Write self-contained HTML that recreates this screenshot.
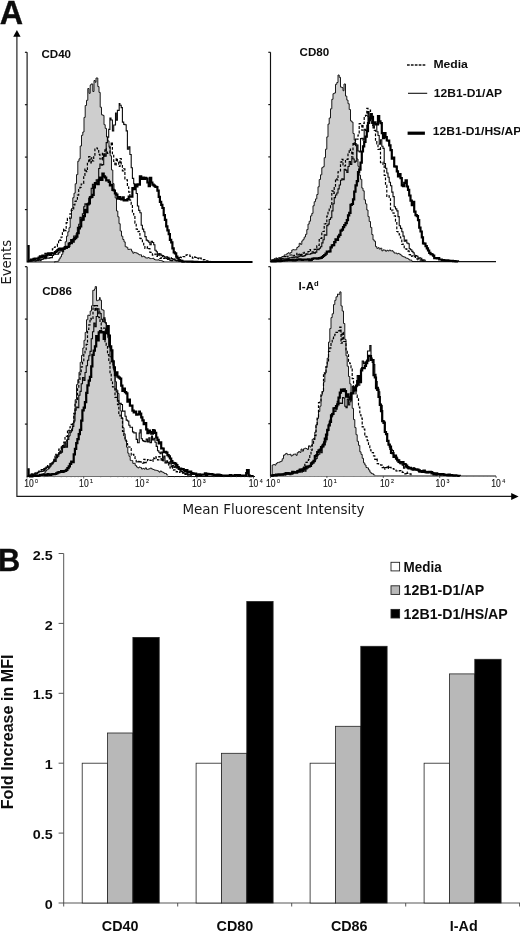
<!DOCTYPE html>
<html><head><meta charset="utf-8"><title>Figure</title>
<style>
html,body{margin:0;padding:0;background:#fff;}
svg{display:block;}
.b{font-family:"Liberation Sans",Arial,sans-serif;font-weight:bold;fill:#0c0c0c;}
.v{font-family:"DejaVu Sans",Verdana,sans-serif;fill:#1a1a1a;}
.t{font-family:"Liberation Sans",Arial,sans-serif;fill:#111;}
</style></head><body>
<svg width="520" height="932" viewBox="0 0 520 932">
<rect width="520" height="932" fill="#fff"/>

<text class="b" x="-0.30" y="23.60" font-size="32.3" stroke="#0c0c0c" stroke-width="0.35">A</text>
<text class="b" x="-2.00" y="570.90" font-size="30.8" stroke="#0c0c0c" stroke-width="0.35">B</text>
<g stroke="#1a1a1a" stroke-width="1.15" fill="none"><path d="M16.9,36 V496.4 H512"/></g>
<path d="M16.9,30 L13.2,36.8 H20.6 Z" fill="#000"/>
<path d="M518.6,496.4 L511.2,492.9 V499.9 Z" fill="#000"/>
<text class="v" font-size="13.7" transform="translate(11.0,284.6) rotate(-90)" textLength="44.6" lengthAdjust="spacingAndGlyphs">Events</text>
<text class="v" font-size="13.5" x="182.4" y="513.8" textLength="182.2" lengthAdjust="spacingAndGlyphs">Mean Fluorescent Intensity</text>
<g stroke="#111" stroke-width="1.15" fill="none"><path d="M27.1,52.3 V262.0 H252.5"/><path d="M27.1,52.3 h-2.2"/><path d="M27.1,104.7 h-2.2"/><path d="M27.1,157.1 h-2.2"/><path d="M27.1,209.6 h-2.2"/></g>
<g stroke="#111" stroke-width="1.15" fill="none"><path d="M270.5,52.3 V261.6 H496.0"/><path d="M270.5,52.3 h-2.2"/><path d="M270.5,104.6 h-2.2"/><path d="M270.5,156.9 h-2.2"/><path d="M270.5,209.3 h-2.2"/></g>
<g stroke="#111" stroke-width="1.15" fill="none"><path d="M27.1,266.7 V476.5 H255.0"/><path d="M27.1,266.7 h-2.2"/><path d="M27.1,319.1 h-2.2"/><path d="M27.1,371.6 h-2.2"/><path d="M27.1,424.1 h-2.2"/></g>
<g stroke="#111" stroke-width="1.15" fill="none"><path d="M270.5,266.7 V476.0 H496.0"/><path d="M270.5,266.7 h-2.2"/><path d="M270.5,319.0 h-2.2"/><path d="M270.5,371.4 h-2.2"/><path d="M270.5,423.7 h-2.2"/></g>
<path d="M54.0,262.0 L54.0,262.0H55.2V261.6H56.5V261.4H57.8V261.1H59.0V258.9H60.2V256.9H61.5V254.3H62.8V248.6H64.0V246.5H65.2V241.8H66.5V236.1H67.8V231.8H69.0V227.7H70.2V218.4H71.5V208.5H72.8V197.7H74.0V193.2H75.2V183.8H76.5V174.6H77.8V161.2H79.0V158.8H80.2V146.0H81.5V135.3H82.8V132.0H84.0V117.4H85.2V105.5H86.5V100.3H87.8V88.5H89.0V93.3H90.2V85.1H91.0V84.0H92.8V91.5H94.0V80.5H95.2V82.3H96.0V78.0H97.8V86.6H99.0V92.4H100.2V107.2H101.5V114.8H102.8V115.4H104.0V124.7H105.2V128.4H106.5V137.0H107.8V140.9H109.0V147.3H110.2V155.8H111.5V170.0H112.8V183.6H114.0V190.5H115.2V198.0H116.5V211.0H117.8V216.8H119.0V223.7H120.2V231.0H121.5V236.2H122.8V239.5H124.0V241.9H125.2V246.7H126.5V247.3H127.8V249.4H129.0V249.3H130.2V249.2H131.5V251.2H132.8V253.2H134.0V252.4H135.2V252.7H136.5V253.2H137.8V254.0H139.0V254.8H140.2V254.8H141.5V256.7H142.8V256.1H144.0V256.7H145.2V257.8H146.5V258.1H147.8V257.6H149.0V258.1H150.2V258.6H151.5V258.5H152.8V258.3H154.0V259.5H155.2V259.9H156.5V260.0H157.8V259.8H159.0V260.3H160.2V260.5H161.5V260.9H162.8V261.5H164.0V261.8 V262.0 Z" fill="#cecece" stroke="none"/>
<path d="M54.0,262.0H55.2V261.6H56.5V261.4H57.8V261.1H59.0V258.9H60.2V256.9H61.5V254.3H62.8V248.6H64.0V246.5H65.2V241.8H66.5V236.1H67.8V231.8H69.0V227.7H70.2V218.4H71.5V208.5H72.8V197.7H74.0V193.2H75.2V183.8H76.5V174.6H77.8V161.2H79.0V158.8H80.2V146.0H81.5V135.3H82.8V132.0H84.0V117.4H85.2V105.5H86.5V100.3H87.8V88.5H89.0V93.3H90.2V85.1H91.0V84.0H92.8V91.5H94.0V80.5H95.2V82.3H96.0V78.0H97.8V86.6H99.0V92.4H100.2V107.2H101.5V114.8H102.8V115.4H104.0V124.7H105.2V128.4H106.5V137.0H107.8V140.9H109.0V147.3H110.2V155.8H111.5V170.0H112.8V183.6H114.0V190.5H115.2V198.0H116.5V211.0H117.8V216.8H119.0V223.7H120.2V231.0H121.5V236.2H122.8V239.5H124.0V241.9H125.2V246.7H126.5V247.3H127.8V249.4H129.0V249.3H130.2V249.2H131.5V251.2H132.8V253.2H134.0V252.4H135.2V252.7H136.5V253.2H137.8V254.0H139.0V254.8H140.2V254.8H141.5V256.7H142.8V256.1H144.0V256.7H145.2V257.8H146.5V258.1H147.8V257.6H149.0V258.1H150.2V258.6H151.5V258.5H152.8V258.3H154.0V259.5H155.2V259.9H156.5V260.0H157.8V259.8H159.0V260.3H160.2V260.5H161.5V260.9H162.8V261.5H164.0V261.8" fill="none" stroke="#1a1a1a" stroke-width="1.0"/>
<path d="M27.4,261.2H28.6V260.8H29.9V260.5H31.1V259.8H32.4V259.4H33.6V258.6H34.9V258.6H36.1V259.6H37.4V258.5H38.6V257.2H39.9V256.7H41.1V255.8H42.4V256.3H43.6V255.7H44.9V253.4H46.1V254.7H47.4V253.1H48.6V254.6H49.9V252.7H51.1V253.1H52.4V248.9H53.6V247.5H54.9V246.8H56.1V246.4H57.4V244.1H58.6V239.7H59.9V240.4H61.1V237.0H62.4V232.8H63.6V229.0H64.9V230.7H66.2V222.7H67.4V218.3H68.7V218.5H69.9V213.9H71.2V210.1H72.4V209.0H73.7V204.9H74.9V201.3H76.2V200.1H77.4V195.2H78.7V189.6H79.9V187.4H81.2V184.0H82.4V183.4H83.7V175.4H84.9V169.0H86.2V171.6H87.4V162.7H88.7V156.6H89.9V162.9H91.2V157.8H92.4V160.9H93.7V155.9H94.9V149.0H96.0V148.0H97.4V148.8H98.7V154.4H99.9V159.0H101.2V159.8H102.4V153.3H103.7V157.1H104.9V148.5H106.2V152.2H107.4V153.3H108.7V152.6H110.0V146.0H111.2V142.3H112.4V154.5H113.7V161.3H114.9V165.6H116.2V158.2H117.4V162.1H118.7V166.4H120.0V158.5H121.2V164.2H122.4V170.8H123.7V168.9H124.9V178.9H126.2V179.8H127.4V187.0H128.7V192.2H129.9V200.1H131.2V204.5H132.4V213.5H133.7V215.0H134.9V223.2H136.2V229.1H137.4V231.6H138.7V231.3H139.9V238.4H141.2V238.9H142.4V242.7H143.7V244.9H144.9V248.5H146.2V248.2H147.4V246.9H148.7V248.7H149.9V252.4H151.2V252.5H152.4V255.1H153.7V254.7H154.9V254.1H156.2V256.3H157.4V255.0H158.7V254.4H159.9V258.3H161.2V255.5H162.4V258.0H163.7V258.4H164.9V258.0H166.2V256.8H167.4V258.9H168.7V257.4H169.9V257.7H171.2V258.6H172.4V259.5H173.7V259.0H174.9V259.1H176.2V258.0H177.4V257.9H178.7V256.9H179.9V257.3H181.2V257.6H182.4V256.5H183.7V256.7H184.9V255.4H186.2V254.9H187.5V255.0H188.7V255.2H189.9V256.3H191.2V256.4H192.4V258.1H193.7V256.9H194.9V257.3H196.2V257.0H197.4V258.1H198.7V258.9H199.9V258.2H201.2V259.0H202.4V259.8H203.7V259.6H204.9V259.7H206.2V260.8H207.4V260.9H208.7V261.4H209.9V261.9" fill="none" stroke="#000" stroke-width="1.2" stroke-dasharray="2.8,1.7"/>
<path d="M27.4,261.8H28.6V261.3H29.9V261.0H31.1V261.2H32.4V260.9H33.6V260.0H34.9V261.1H36.1V260.5H37.4V260.7H38.6V259.6H39.9V260.7H41.1V259.4H42.4V259.3H43.6V258.2H44.9V258.7H46.1V258.3H47.4V258.0H48.6V258.2H49.9V257.6H51.1V257.6H52.4V255.5H53.6V254.2H54.9V254.3H56.1V254.2H57.4V254.1H58.6V252.8H59.9V249.0H61.1V250.9H62.4V251.7H63.6V249.4H64.9V248.0H66.2V248.5H67.4V246.9H68.7V246.5H69.9V243.5H71.2V243.7H72.4V240.2H73.7V236.0H74.9V236.3H76.2V233.8H77.4V227.4H78.7V224.3H79.9V217.4H81.2V220.7H82.4V213.8H83.7V206.8H84.9V203.9H86.2V204.6H87.4V203.9H88.7V198.2H89.9V196.5H91.2V188.4H92.4V184.2H93.7V187.7H94.9V183.9H96.2V179.9H97.4V181.9H98.7V168.5H99.9V164.0H101.2V165.3H102.4V164.6H103.7V153.9H104.9V156.1H106.2V142.6H107.4V137.1H108.7V129.4H109.9V118.0H111.0V120.0H112.4V130.9H113.7V125.0H115.5V113.0H116.2V120.1H117.4V110.4H119.2V103.5H119.9V105.2H121.2V107.6H122.4V122.1H123.7V124.4H124.9V124.8H126.2V130.9H127.4V149.2H128.7V146.9H129.9V154.5H131.2V167.8H132.4V178.4H133.7V183.7H134.9V186.7H136.2V193.5H137.4V206.0H138.7V210.4H139.9V212.7H141.2V225.2H142.4V229.1H143.7V231.8H144.9V236.6H146.2V240.1H147.4V240.9H148.7V242.3H149.9V244.8H151.2V241.2H152.5V242.5H153.7V244.8H154.9V250.3H156.2V251.7H157.4V255.1H158.7V253.6H159.9V254.1H161.2V255.3H162.4V255.5H163.7V256.5H164.9V257.8H166.2V258.4H167.4V259.4H168.7V258.2H169.9V260.4H171.2V260.7H172.4V259.9H173.7V259.3H174.9V260.5H176.2V260.9H177.4V260.5H178.7V261.5H179.9V261.7" fill="none" stroke="#0a0a0a" stroke-width="1.1"/>
<path d="M27.4,246.2H28.6V260.7H29.9V260.5H31.1V259.6H32.4V259.6H33.6V258.9H34.9V258.5H36.1V258.6H37.4V258.5H38.6V257.6H39.9V256.4H41.1V257.4H42.4V255.7H43.6V256.3H44.9V256.9H46.1V255.3H47.4V254.1H48.6V253.4H49.9V254.9H51.1V253.5H52.4V253.5H53.6V253.3H54.9V252.0H56.1V251.3H57.4V250.2H58.6V248.8H59.9V248.7H61.1V249.3H62.4V248.6H63.6V248.4H64.9V247.3H66.2V246.9H67.4V246.9H68.7V243.7H69.9V243.0H71.2V240.0H72.4V241.6H73.7V239.1H74.9V238.2H76.2V236.7H77.4V233.1H78.7V228.3H79.9V226.5H81.2V219.8H82.4V219.7H83.7V216.1H84.9V209.8H86.2V212.1H87.4V204.4H88.7V203.4H89.9V197.4H91.2V196.8H92.4V194.8H93.7V187.3H94.9V183.0H96.2V183.5H97.4V184.2H98.7V179.8H99.9V177.7H101.2V179.8H102.4V173.5H103.7V176.3H105.0V177.5H106.2V180.4H107.4V180.3H108.7V181.8H109.9V185.5H111.2V184.8H112.4V189.8H113.7V190.5H114.9V193.3H116.2V194.6H117.4V198.6H118.7V197.0H119.9V198.9H121.2V199.4H122.4V197.3H123.7V200.4H124.9V200.2H126.2V200.4H127.4V199.2H128.7V196.6H129.9V196.5H131.2V196.6H132.4V188.2H133.7V189.1H134.9V184.8H136.2V186.3H137.4V184.4H138.7V184.7H139.9V176.4H141.2V179.0H142.4V177.5H144.0V179.0H144.9V177.8H146.2V178.7H147.4V182.5H148.7V186.1H149.9V177.8H151.2V182.5H152.4V184.7H153.7V185.6H154.9V186.6H156.2V187.0H157.4V190.6H158.7V196.8H159.9V201.8H161.2V204.8H162.4V208.0H163.7V215.1H164.9V219.9H166.2V226.4H167.4V230.4H168.7V234.1H169.9V239.9H171.2V242.3H172.4V248.3H173.7V252.4H174.9V253.3H176.2V256.7H177.4V258.4H178.7V260.0H179.9V260.5H181.2V260.8H182.4V261.6H183.7V261.5H184.9V261.5H186.2V261.5H187.4V261.6H188.7V261.6H189.9V261.7H191.2V261.7H192.4V261.9H193.7V261.9H194.9V261.8H196.2V261.8H197.4V262.0H198.7V262.0H199.9V262.0H201.2V262.0H202.4V262.0H203.7V262.0H204.9V262.0H206.2V262.0H207.4V262.0H208.7V262.0H209.9V262.0H211.2V262.0H212.4V262.0H213.7V262.0H214.9V262.0H216.2V262.0H217.4V262.0H218.7V262.0H219.9V262.0H221.2V262.0H222.4V262.0H223.7V262.0H224.9V262.0H226.2V262.0H227.4V262.0H228.7V262.0H229.9V262.0H231.2V262.0H232.4V262.0H233.7V262.0H234.9V262.0H236.2V262.0H237.4V262.0H238.7V262.0H239.9V262.0H241.2V262.0H242.4V262.0H243.7V262.0H244.9V262.0H246.2V262.0H247.4V262.0H248.7V262.0H249.9V262.0H251.2V262.0H252.4V262.0" fill="none" stroke="#000" stroke-width="2.2" stroke-linejoin="miter"/>
<path d="M270.5,261.5 L270.5,259.9H271.8V259.6H273.0V259.6H274.2V258.5H275.5V258.0H276.8V258.5H278.0V258.0H279.2V257.8H280.5V257.5H281.8V256.5H283.0V256.4H284.2V254.9H285.5V254.8H286.8V253.6H288.0V252.8H289.2V253.3H290.5V252.5H291.8V250.0H293.0V249.7H294.2V249.9H295.5V249.7H296.8V247.5H298.0V246.5H299.2V243.3H300.5V244.4H301.8V240.9H303.0V239.3H304.2V237.0H305.5V234.3H306.8V229.6H308.0V224.1H309.2V221.2H310.5V215.9H311.8V213.4H313.0V205.8H314.2V201.7H315.5V198.9H316.8V194.5H318.0V186.8H319.2V179.5H320.5V174.8H321.8V167.7H323.0V166.7H324.2V157.7H325.5V149.2H326.8V136.9H328.0V124.1H329.2V118.0H330.5V108.8H331.8V99.3H333.0V93.7H334.2V93.0H335.5V84.3H336.8V82.5H338.0V75.0H339.2V77.3H340.5V87.1H341.8V87.6H343.0V90.7H344.0V84.0H345.5V96.1H346.8V100.1H348.0V103.7H349.2V109.5H350.5V120.9H351.8V122.1H353.0V133.5H354.2V140.1H355.5V143.7H356.8V159.0H358.0V166.3H359.2V175.1H360.5V179.3H361.8V188.1H363.0V190.8H364.2V199.8H365.5V203.9H366.8V210.0H368.0V216.6H369.2V221.5H370.5V227.4H371.8V234.6H373.0V239.8H374.2V241.2H375.5V246.6H376.8V248.3H378.0V247.7H379.2V249.1H380.5V248.2H381.8V250.8H383.0V249.9H384.2V250.1H385.5V251.2H386.8V250.3H388.0V250.9H389.2V250.1H390.5V250.9H391.8V250.7H393.0V251.9H394.2V253.1H395.5V253.0H396.8V253.9H398.0V253.4H399.2V254.1H400.5V255.0H401.8V256.2H403.0V256.7H404.2V257.1H405.5V258.0H406.8V258.3H408.0V259.0H409.2V260.0H410.5V260.1H411.8V261.0 V261.5 Z" fill="#cecece" stroke="none"/>
<path d="M270.5,259.9H271.8V259.6H273.0V259.6H274.2V258.5H275.5V258.0H276.8V258.5H278.0V258.0H279.2V257.8H280.5V257.5H281.8V256.5H283.0V256.4H284.2V254.9H285.5V254.8H286.8V253.6H288.0V252.8H289.2V253.3H290.5V252.5H291.8V250.0H293.0V249.7H294.2V249.9H295.5V249.7H296.8V247.5H298.0V246.5H299.2V243.3H300.5V244.4H301.8V240.9H303.0V239.3H304.2V237.0H305.5V234.3H306.8V229.6H308.0V224.1H309.2V221.2H310.5V215.9H311.8V213.4H313.0V205.8H314.2V201.7H315.5V198.9H316.8V194.5H318.0V186.8H319.2V179.5H320.5V174.8H321.8V167.7H323.0V166.7H324.2V157.7H325.5V149.2H326.8V136.9H328.0V124.1H329.2V118.0H330.5V108.8H331.8V99.3H333.0V93.7H334.2V93.0H335.5V84.3H336.8V82.5H338.0V75.0H339.2V77.3H340.5V87.1H341.8V87.6H343.0V90.7H344.0V84.0H345.5V96.1H346.8V100.1H348.0V103.7H349.2V109.5H350.5V120.9H351.8V122.1H353.0V133.5H354.2V140.1H355.5V143.7H356.8V159.0H358.0V166.3H359.2V175.1H360.5V179.3H361.8V188.1H363.0V190.8H364.2V199.8H365.5V203.9H366.8V210.0H368.0V216.6H369.2V221.5H370.5V227.4H371.8V234.6H373.0V239.8H374.2V241.2H375.5V246.6H376.8V248.3H378.0V247.7H379.2V249.1H380.5V248.2H381.8V250.8H383.0V249.9H384.2V250.1H385.5V251.2H386.8V250.3H388.0V250.9H389.2V250.1H390.5V250.9H391.8V250.7H393.0V251.9H394.2V253.1H395.5V253.0H396.8V253.9H398.0V253.4H399.2V254.1H400.5V255.0H401.8V256.2H403.0V256.7H404.2V257.1H405.5V258.0H406.8V258.3H408.0V259.0H409.2V260.0H410.5V260.1H411.8V261.0" fill="none" stroke="#1a1a1a" stroke-width="1.0"/>
<path d="M270.5,261.4H271.8V260.7H273.0V260.6H274.2V259.8H275.5V260.7H276.8V258.4H278.0V258.4H279.2V258.1H280.5V259.5H281.8V258.3H283.0V257.6H284.2V256.5H285.5V257.4H286.8V256.9H288.0V256.0H289.2V255.0H290.5V255.0H291.8V255.9H293.0V255.8H294.2V255.4H295.5V255.0H296.8V253.3H298.0V254.8H299.2V253.5H300.5V254.4H301.8V254.6H303.0V253.2H304.2V252.4H305.5V254.1H306.8V253.0H308.0V251.5H309.2V249.6H310.5V251.4H311.8V251.8H313.0V252.0H314.2V249.4H315.5V248.2H316.8V245.9H318.0V245.3H319.2V239.6H320.5V238.3H321.8V233.0H323.0V231.5H324.2V224.0H325.5V223.7H326.8V216.2H328.0V211.3H329.2V207.8H330.5V204.3H331.8V190.8H333.0V193.4H334.2V186.8H335.5V178.7H336.8V179.9H338.0V171.9H339.2V171.9H340.5V162.1H341.8V159.3H343.0V164.9H344.2V165.9H345.5V159.4H346.8V159.3H348.0V153.2H349.2V149.0H350.5V152.1H351.8V157.0H353.0V142.4H354.2V145.7H355.5V138.3H356.8V139.2H358.0V135.0H359.2V123.6H360.5V124.4H361.8V130.1H363.0V123.4H364.2V117.7H365.5V115.3H366.8V108.4H368.0V116.5H369.0V110.0H370.5V121.0H371.8V125.5H373.0V124.4H374.2V130.3H375.5V141.0H376.8V143.8H378.0V149.5H379.2V147.7H380.5V162.6H381.8V162.2H383.0V164.4H384.2V175.3H385.5V185.2H386.8V196.5H388.0V195.9H389.2V197.5H390.5V210.8H391.8V210.0H393.0V213.1H394.2V215.9H395.5V221.2H396.8V231.5H398.0V232.2H399.2V234.8H400.5V238.0H401.8V244.4H403.0V244.1H404.2V247.6H405.5V248.9H406.8V250.6H408.0V251.2H409.2V254.6H410.5V256.5H411.8V255.8H413.0V255.9H414.2V256.6H415.5V258.5H416.8V259.0H418.0V259.8H419.2V260.1H420.5V259.8H421.8V260.9H423.0V261.0H424.2V261.2" fill="none" stroke="#000" stroke-width="1.2" stroke-dasharray="2.8,1.7"/>
<path d="M270.5,261.1H271.8V261.1H273.0V260.6H274.2V260.1H275.5V260.7H276.8V259.8H278.0V259.5H279.2V258.9H280.5V259.5H281.8V258.7H283.0V258.8H284.2V259.1H285.5V258.7H286.8V259.1H288.0V258.5H289.2V257.8H290.5V257.7H291.8V257.4H293.0V258.0H294.2V257.3H295.5V256.8H296.8V257.6H298.0V256.8H299.2V256.1H300.5V255.1H301.8V256.5H303.0V256.1H304.2V255.6H305.5V254.8H306.8V254.0H308.0V254.2H309.2V254.3H310.5V253.6H311.8V253.3H313.0V252.6H314.2V253.1H315.5V252.1H316.8V249.4H318.0V249.7H319.2V248.3H320.5V246.8H321.8V242.9H323.0V239.7H324.2V234.8H325.5V235.2H326.8V225.6H328.0V224.1H329.2V219.5H330.5V217.7H331.8V210.9H333.0V203.7H334.2V197.6H335.5V195.0H336.8V193.0H338.0V188.9H339.2V185.0H340.5V180.3H341.8V178.7H343.0V179.6H344.2V169.4H345.5V170.1H346.8V172.5H348.0V166.5H349.2V161.6H350.5V164.4H351.8V158.0H353.0V159.0H354.2V162.2H355.5V161.1H356.8V145.0H358.0V151.0H359.2V151.9H360.5V138.6H361.8V138.2H363.0V140.1H364.2V129.2H365.5V130.4H366.8V125.4H368.0V114.3H369.2V120.9H370.0V117.5H371.8V122.6H373.0V128.0H374.2V123.8H375.5V123.8H376.8V131.7H378.0V135.5H379.2V144.1H380.5V139.8H381.8V146.2H383.0V148.4H384.2V163.6H385.5V168.3H386.8V173.0H388.0V177.3H389.2V182.3H390.5V185.8H391.8V192.1H393.0V196.6H394.2V206.8H395.5V208.9H396.8V210.9H398.0V216.6H399.2V225.7H400.5V228.4H401.8V231.7H403.0V236.1H404.2V241.1H405.5V240.1H406.8V243.0H408.0V243.7H409.2V248.8H410.5V249.7H411.8V251.4H413.0V252.8H414.2V255.3H415.5V255.5H416.8V256.2H418.0V258.6H419.2V257.9H420.5V258.3H421.8V260.5H423.0V259.8H424.2V260.2H425.5V260.7" fill="none" stroke="#0a0a0a" stroke-width="1.1"/>
<path d="M270.5,261.5H271.8V261.5H273.0V261.4H274.2V261.3H275.5V261.1H276.8V260.8H278.0V261.0H279.2V261.2H280.5V261.0H281.8V260.6H283.0V260.7H284.2V260.3H285.5V260.3H286.8V259.9H288.0V260.1H289.2V260.1H290.5V259.9H291.8V260.2H293.0V260.5H294.2V260.3H295.5V259.8H296.8V259.6H298.0V259.6H299.2V259.4H300.5V259.7H301.8V259.9H303.0V259.7H304.2V259.7H305.5V259.7H306.8V259.5H308.0V259.3H309.2V260.1H310.5V259.8H311.8V258.8H313.0V258.5H314.2V258.4H315.5V258.4H316.8V258.7H318.0V258.4H319.2V258.2H320.5V257.8H321.8V257.0H323.0V256.0H324.2V255.0H325.5V253.7H326.8V251.7H328.0V251.6H329.2V251.4H330.5V247.4H331.8V245.3H333.0V245.1H334.2V242.2H335.5V239.4H336.8V239.9H338.0V236.7H339.2V234.8H340.5V230.7H341.8V229.7H343.0V227.1H344.2V225.2H345.5V223.1H346.8V220.1H348.0V215.3H349.2V212.9H350.5V204.9H351.8V204.0H353.0V199.3H354.2V191.7H355.5V185.4H356.8V181.1H358.0V172.1H359.2V169.6H360.5V162.6H361.8V151.5H363.0V146.4H364.2V142.0H365.5V136.7H366.8V131.2H368.0V123.0H369.2V118.5H371.0V114.0H371.8V116.8H373.0V122.8H374.2V122.4H375.5V124.3H376.8V124.4H378.0V116.1H379.2V121.4H380.5V123.2H381.8V133.2H383.0V138.2H384.2V133.2H385.5V137.1H386.8V140.5H388.0V140.6H389.2V145.3H390.5V150.2H391.8V158.6H393.0V157.6H394.2V166.3H395.5V166.6H396.8V171.4H398.0V176.3H399.2V174.2H400.5V178.1H401.8V185.3H403.0V186.2H404.2V182.9H405.6V180.4H406.8V186.5H408.0V189.8H409.2V195.5H410.5V200.6H411.8V205.2H413.0V201.8H414.2V211.7H415.5V215.2H416.8V216.2H418.0V220.1H419.2V227.7H420.5V231.5H421.8V237.4H423.0V243.3H424.2V243.7H425.5V246.1H426.8V248.3H428.0V250.5H429.2V252.8H430.5V254.1H431.8V254.5H433.0V255.7H434.2V258.2H435.5V258.0H436.8V258.4H438.0V258.2H439.2V259.5H440.5V259.5H441.8V260.2H443.0V260.1H444.2V260.4H445.5V260.7H446.8V260.4H448.0V260.7H449.2V260.9H450.5V260.8H451.8V260.9H453.0V261.1H454.2V261.1H455.5V261.4H456.8V261.4H458.0V261.5" fill="none" stroke="#000" stroke-width="2.2" stroke-linejoin="miter"/>
<path d="M34.0,476.5 L34.0,476.5H35.2V476.1H36.5V476.0H37.8V475.8H39.0V475.4H40.2V475.2H41.5V474.4H42.8V473.8H44.0V473.1H45.2V471.1H46.5V469.8H47.8V468.8H49.0V467.7H50.2V463.8H51.5V464.6H52.8V461.7H54.0V461.4H55.2V457.7H56.5V455.4H57.8V454.4H59.0V453.8H60.2V450.7H61.5V446.4H62.8V447.7H64.0V443.0H65.2V441.9H66.5V439.8H67.8V437.0H69.0V435.9H70.2V432.6H71.5V428.8H72.8V423.0H74.0V414.4H75.2V399.7H76.5V384.6H77.8V379.6H79.0V372.2H80.2V362.3H81.5V355.4H82.8V348.0H84.0V340.3H85.2V332.4H86.5V319.7H87.8V315.2H89.0V315.4H90.2V311.0H91.5V305.8H92.8V290.3H94.5V289.0H95.2V286.6H96.5V300.7H97.8V300.1H99.5V297.5H100.2V300.2H101.5V309.6H102.8V310.2H104.0V319.3H105.2V323.3H106.5V329.3H107.8V337.9H109.0V345.3H110.2V348.4H111.5V358.9H112.8V365.3H114.0V371.5H115.2V381.7H116.5V390.0H117.8V393.4H119.0V403.5H120.2V410.8H121.5V417.9H122.8V427.7H124.0V433.8H125.2V440.4H126.5V447.2H127.8V453.2H129.0V456.3H130.2V460.4H131.5V460.6H132.8V463.4H134.0V463.3H135.2V465.6H136.5V467.0H137.8V467.9H139.0V467.0H140.2V467.6H141.5V469.0H142.8V468.4H144.0V469.1H145.2V467.9H146.5V469.4H147.8V469.1H149.0V468.8H150.2V468.1H151.5V468.9H152.8V469.5H154.0V470.0H155.2V470.2H156.5V470.5H157.8V471.1H159.0V472.1H160.2V471.0H161.5V471.9H162.8V472.4H164.0V473.3H165.2V473.5H166.5V474.8H167.8V475.2 V476.5 Z" fill="#cecece" stroke="none"/>
<path d="M34.0,476.5H35.2V476.1H36.5V476.0H37.8V475.8H39.0V475.4H40.2V475.2H41.5V474.4H42.8V473.8H44.0V473.1H45.2V471.1H46.5V469.8H47.8V468.8H49.0V467.7H50.2V463.8H51.5V464.6H52.8V461.7H54.0V461.4H55.2V457.7H56.5V455.4H57.8V454.4H59.0V453.8H60.2V450.7H61.5V446.4H62.8V447.7H64.0V443.0H65.2V441.9H66.5V439.8H67.8V437.0H69.0V435.9H70.2V432.6H71.5V428.8H72.8V423.0H74.0V414.4H75.2V399.7H76.5V384.6H77.8V379.6H79.0V372.2H80.2V362.3H81.5V355.4H82.8V348.0H84.0V340.3H85.2V332.4H86.5V319.7H87.8V315.2H89.0V315.4H90.2V311.0H91.5V305.8H92.8V290.3H94.5V289.0H95.2V286.6H96.5V300.7H97.8V300.1H99.5V297.5H100.2V300.2H101.5V309.6H102.8V310.2H104.0V319.3H105.2V323.3H106.5V329.3H107.8V337.9H109.0V345.3H110.2V348.4H111.5V358.9H112.8V365.3H114.0V371.5H115.2V381.7H116.5V390.0H117.8V393.4H119.0V403.5H120.2V410.8H121.5V417.9H122.8V427.7H124.0V433.8H125.2V440.4H126.5V447.2H127.8V453.2H129.0V456.3H130.2V460.4H131.5V460.6H132.8V463.4H134.0V463.3H135.2V465.6H136.5V467.0H137.8V467.9H139.0V467.0H140.2V467.6H141.5V469.0H142.8V468.4H144.0V469.1H145.2V467.9H146.5V469.4H147.8V469.1H149.0V468.8H150.2V468.1H151.5V468.9H152.8V469.5H154.0V470.0H155.2V470.2H156.5V470.5H157.8V471.1H159.0V472.1H160.2V471.0H161.5V471.9H162.8V472.4H164.0V473.3H165.2V473.5H166.5V474.8H167.8V475.2" fill="none" stroke="#1a1a1a" stroke-width="1.0"/>
<path d="M27.5,475.9H28.8V475.4H30.0V475.3H31.2V475.0H32.5V474.7H33.8V473.7H35.0V474.1H36.2V472.4H37.5V473.8H38.8V471.1H40.0V471.2H41.2V469.7H42.5V470.6H43.8V467.5H45.0V470.0H46.2V465.5H47.5V468.6H48.8V465.6H50.0V463.6H51.2V462.7H52.5V463.4H53.8V460.4H55.0V454.3H56.2V457.6H57.5V454.3H58.8V449.2H60.0V451.7H61.2V446.3H62.5V445.6H63.8V442.2H65.0V436.8H66.2V436.3H67.5V429.9H68.8V430.8H70.0V426.9H71.2V424.4H72.5V424.2H73.8V413.3H75.0V403.7H76.2V400.4H77.5V387.8H78.8V380.7H80.0V373.9H81.2V366.8H82.5V361.6H83.8V353.9H85.0V350.2H86.2V344.4H87.5V329.5H88.8V324.8H90.0V318.3H91.2V319.6H93.0V308.0H93.8V305.6H95.0V311.0H96.2V305.6H97.5V310.6H98.8V317.6H100.0V322.8H101.2V328.9H102.5V328.0H103.8V328.2H105.0V341.7H106.2V345.5H107.5V354.7H108.8V361.1H110.0V372.7H111.2V381.3H112.5V386.9H113.8V387.5H115.0V397.3H116.2V397.5H117.5V404.6H118.8V415.2H120.0V416.0H121.2V418.1H122.5V431.3H123.8V436.1H125.0V440.2H126.2V441.4H127.5V445.0H128.8V447.0H130.0V448.7H131.2V455.1H132.5V454.3H133.8V456.6H135.0V458.5H136.2V462.6H137.5V461.8H138.8V460.7H140.0V461.8H141.2V462.9H142.5V463.1H143.8V459.3H145.0V462.6H146.2V460.7H147.5V459.6H148.8V459.3H150.0V460.4H151.2V461.3H153.0V457.7H153.8V458.7H155.0V456.9H156.2V459.1H157.5V459.9H158.8V456.7H160.0V458.7H161.2V461.2H162.5V458.2H163.8V460.9H165.0V462.9H166.2V460.9H167.5V463.9H168.8V465.8H170.0V468.0H171.2V466.9H172.5V470.1H173.8V469.9H175.0V471.3H176.2V471.8H177.5V471.7H178.8V472.4H180.0V471.4H181.2V472.2H182.5V472.7H183.8V473.4H185.0V474.4H186.2V473.1H187.5V474.2H188.8V474.0H190.0V474.2H191.2V475.8H192.5V475.4" fill="none" stroke="#000" stroke-width="1.2" stroke-dasharray="2.8,1.7"/>
<path d="M27.5,476.4H28.8V476.0H30.0V474.8H31.2V473.9H32.5V475.4H33.8V473.7H35.0V472.8H36.2V473.5H37.5V472.8H38.8V471.8H40.0V471.6H41.2V471.5H42.5V471.1H43.8V470.6H45.0V468.5H46.2V467.4H47.5V467.4H48.8V466.1H50.0V466.0H51.2V463.2H52.5V462.4H53.8V459.2H55.0V461.4H56.2V455.3H57.5V456.2H58.8V452.6H60.0V453.1H61.2V452.3H62.5V446.3H63.8V447.4H65.0V442.8H66.2V447.1H67.5V439.4H68.8V432.8H70.0V430.8H71.2V430.8H72.5V426.4H73.8V421.0H75.0V410.2H76.2V407.0H77.5V407.6H78.8V395.2H80.0V391.4H81.2V383.8H82.5V377.5H83.8V380.4H85.0V372.5H86.2V365.8H87.5V360.3H88.8V355.7H90.0V351.4H91.2V338.8H92.5V331.8H93.8V323.1H95.0V326.8H96.2V316.5H97.5V308.9H99.0V312.0H100.0V313.6H101.2V319.2H102.5V321.8H103.8V317.7H105.0V322.5H106.2V330.1H107.5V334.3H108.8V346.7H110.0V356.8H111.2V361.4H112.5V361.4H113.8V369.4H115.0V389.2H116.2V391.9H117.5V400.6H118.8V403.3H120.0V403.4H121.2V404.5H122.5V411.1H123.8V411.1H125.0V416.2H126.2V420.1H127.5V421.0H128.8V425.3H130.0V427.2H131.2V427.2H132.5V431.9H133.8V433.0H135.0V432.9H136.2V439.4H137.5V442.7H139.2V433.0H140.0V429.9H141.2V438.7H142.5V440.6H143.8V441.4H145.0V441.6H146.2V439.1H147.5V441.9H148.8V437.8H150.0V442.6H151.5V436.0H152.5V439.9H153.8V438.2H155.0V442.2H156.2V446.4H157.5V450.7H158.8V452.3H160.0V453.8H161.2V452.0H162.5V458.1H163.8V456.1H165.0V461.2H166.2V462.8H167.5V462.4H168.8V463.6H170.0V461.6H171.2V466.8H172.5V465.5H173.8V467.5H175.0V466.3H176.2V468.0H177.5V467.7H178.8V469.5H180.0V470.5H181.2V471.5H182.5V473.2H183.8V473.3H185.0V473.5H186.2V473.7H187.5V475.1H188.8V474.0H190.0V475.3H191.2V474.2H192.5V475.0" fill="none" stroke="#0a0a0a" stroke-width="1.1"/>
<path d="M27.4,469.3H28.6V476.0H29.9V476.3H31.1V476.3H32.4V475.4H33.6V475.4H34.9V475.6H36.1V476.0H37.4V475.8H38.6V475.5H39.9V474.9H41.1V475.0H42.4V474.6H43.6V474.6H44.9V475.1H46.1V475.1H47.4V474.2H48.6V474.6H49.9V475.0H51.1V474.3H52.4V474.0H53.6V474.2H54.9V474.0H56.1V473.4H57.4V472.6H58.6V472.2H59.9V472.0H61.1V471.1H62.4V471.8H63.6V471.1H64.9V470.8H66.2V469.9H67.4V468.1H68.7V466.4H69.9V463.8H71.2V461.6H72.4V462.2H73.7V454.3H74.9V448.9H76.2V443.1H77.4V439.2H78.7V434.1H79.9V429.8H81.2V420.6H82.4V410.4H83.7V407.7H84.9V402.1H86.2V392.8H87.4V385.3H88.7V380.7H89.9V376.8H91.2V366.4H92.4V354.8H93.7V350.6H94.9V346.3H96.2V336.2H97.4V340.5H98.7V332.3H100.0V331.0H101.2V332.5H102.4V332.0H103.7V339.0H104.9V333.2H106.2V329.5H108.0V326.0H108.7V335.6H109.9V346.4H111.2V350.4H112.4V361.4H113.7V367.4H114.9V375.1H116.2V372.3H117.4V376.6H118.7V377.7H119.9V378.6H121.2V385.7H122.4V390.8H123.7V388.7H124.9V392.1H126.2V393.4H127.4V401.7H128.7V399.7H129.9V405.6H131.2V405.5H132.4V410.7H133.7V412.3H134.9V411.7H136.2V414.6H137.4V414.4H139.2V411.5H139.9V413.6H141.2V417.4H142.4V420.4H143.7V424.2H144.9V423.2H146.2V429.4H147.4V433.2H148.7V430.7H149.9V432.0H151.2V433.7H153.0V430.0H153.7V430.6H154.9V432.8H156.2V437.5H157.4V439.9H158.7V443.4H159.9V442.4H161.2V448.4H162.4V448.5H163.7V452.1H164.9V451.9H166.2V452.7H167.4V455.2H168.7V456.3H169.9V458.5H171.2V461.1H172.4V462.8H173.7V463.1H174.9V463.7H176.2V465.1H177.4V467.2H178.7V468.8H179.9V468.5H181.2V469.2H182.4V469.2H183.7V470.3H184.9V471.3H186.2V470.0H187.4V471.8H188.7V471.8H189.9V471.5H191.2V473.1H192.4V473.3H193.7V473.9H194.9V473.7H196.2V475.3H197.4V474.6H198.7V474.3H199.9V475.0H201.2V474.6H202.4V474.6H203.7V474.7H204.9V473.4H206.2V474.8H207.4V473.9H208.5V474.0H209.9V474.5H211.2V474.0H212.4V474.6H213.7V474.9H214.9V474.8H216.2V475.1H217.4V474.6H218.7V474.9H219.9V475.1H221.2V475.6H222.4V476.0H223.7V475.6H224.9V475.5H226.2V475.5H227.4V475.8H228.7V475.7H229.9V475.2H231.2V475.8H232.4V475.5H233.7V475.7H234.9V475.0H236.2V475.1H237.4V475.7H238.7V475.0H239.9V475.6H241.2V475.6H242.4V475.5H243.7V475.6H244.9V475.6H246.2V473.1H247.0V470.0H248.7V475.5H249.9V476.1H251.2V476.0H252.4V476.0H253.7V476.0" fill="none" stroke="#000" stroke-width="2.2" stroke-linejoin="miter"/>
<path d="M271.0,476.0 L271.0,476.0H272.2V465.0H273.5V464.5H274.8V465.1H276.0V463.5H277.2V462.5H278.5V462.3H279.8V461.7H281.0V461.2H282.2V458.8H283.5V455.1H285.0V454.0H286.0V453.4H287.2V454.7H288.5V454.5H289.8V454.3H291.0V456.0H292.2V455.1H293.5V454.2H294.8V454.1H296.0V455.3H297.2V452.7H298.5V451.6H299.8V452.4H301.0V449.1H302.2V451.1H303.5V448.8H304.8V448.2H306.0V448.5H307.2V449.5H308.5V445.8H309.8V447.0H311.0V445.5H312.2V439.3H313.5V438.4H314.8V432.1H316.0V424.6H317.2V418.5H318.5V411.5H319.8V406.2H321.0V395.4H322.2V391.7H323.5V382.0H324.8V373.2H326.0V366.1H327.2V358.1H328.5V342.1H329.8V328.6H331.0V317.6H332.2V313.8H333.5V304.6H334.8V300.3H336.0V296.8H337.5V294.0H338.5V294.4H339.8V291.9H341.0V305.9H342.2V311.0H343.5V323.5H344.8V339.4H346.0V355.8H347.2V366.2H348.5V376.5H349.8V383.9H351.0V393.6H352.2V408.3H353.5V419.6H354.8V427.6H356.0V434.7H357.2V441.3H358.5V445.4H359.8V451.8H361.0V454.4H362.2V458.3H363.5V462.9H364.8V465.0H366.0V467.5H367.2V467.9H368.5V469.9H369.8V472.1H371.0V473.3H372.2V473.8H373.5V474.9H374.8V475.3 V476.0 Z" fill="#cecece" stroke="none"/>
<path d="M271.0,476.0H272.2V465.0H273.5V464.5H274.8V465.1H276.0V463.5H277.2V462.5H278.5V462.3H279.8V461.7H281.0V461.2H282.2V458.8H283.5V455.1H285.0V454.0H286.0V453.4H287.2V454.7H288.5V454.5H289.8V454.3H291.0V456.0H292.2V455.1H293.5V454.2H294.8V454.1H296.0V455.3H297.2V452.7H298.5V451.6H299.8V452.4H301.0V449.1H302.2V451.1H303.5V448.8H304.8V448.2H306.0V448.5H307.2V449.5H308.5V445.8H309.8V447.0H311.0V445.5H312.2V439.3H313.5V438.4H314.8V432.1H316.0V424.6H317.2V418.5H318.5V411.5H319.8V406.2H321.0V395.4H322.2V391.7H323.5V382.0H324.8V373.2H326.0V366.1H327.2V358.1H328.5V342.1H329.8V328.6H331.0V317.6H332.2V313.8H333.5V304.6H334.8V300.3H336.0V296.8H337.5V294.0H338.5V294.4H339.8V291.9H341.0V305.9H342.2V311.0H343.5V323.5H344.8V339.4H346.0V355.8H347.2V366.2H348.5V376.5H349.8V383.9H351.0V393.6H352.2V408.3H353.5V419.6H354.8V427.6H356.0V434.7H357.2V441.3H358.5V445.4H359.8V451.8H361.0V454.4H362.2V458.3H363.5V462.9H364.8V465.0H366.0V467.5H367.2V467.9H368.5V469.9H369.8V472.1H371.0V473.3H372.2V473.8H373.5V474.9H374.8V475.3" fill="none" stroke="#1a1a1a" stroke-width="1.0"/>
<path d="M271.0,476.0H272.2V476.0H273.5V475.5H274.8V475.7H276.0V475.4H277.2V475.6H278.5V475.0H279.8V475.2H281.0V475.1H282.2V474.0H283.5V473.9H284.8V474.6H286.0V474.4H287.2V474.8H288.5V474.3H289.8V473.4H291.0V473.9H292.2V472.8H293.5V472.7H294.8V472.1H296.0V472.3H297.2V470.6H298.5V470.4H299.8V469.3H301.0V472.2H302.2V469.2H303.5V467.2H304.8V464.3H306.0V462.4H307.2V460.3H308.5V459.4H309.8V454.8H311.0V450.1H312.2V443.3H313.5V439.3H314.8V435.6H316.0V424.6H317.2V417.5H318.5V402.7H319.8V402.2H321.0V393.3H322.2V390.6H323.5V372.9H324.8V373.8H326.0V366.8H327.2V360.9H328.5V351.3H329.8V347.8H331.0V342.9H332.2V338.6H333.5V335.6H334.8V334.3H336.0V332.3H337.5V332.5H338.5V330.8H339.8V327.2H341.0V343.2H342.2V332.3H343.5V341.5H344.8V341.5H346.0V351.3H347.2V353.2H348.5V361.3H349.8V363.7H351.0V367.6H352.2V378.7H353.5V387.4H354.8V389.8H356.0V395.2H357.2V397.9H358.5V407.1H359.8V414.9H361.0V418.1H362.2V426.9H363.5V429.2H364.8V434.8H366.0V436.8H367.2V440.6H368.5V445.9H369.8V449.9H371.0V452.5H372.2V452.7H373.5V455.8H374.8V459.4H376.0V458.4H377.2V463.6H378.5V463.9H379.8V464.8H381.0V465.2H382.2V467.6H383.5V466.6H384.8V469.1H386.0V467.7H387.2V465.9H388.5V468.5H389.8V467.4H391.0V467.8H392.2V468.6H393.5V469.2H394.8V470.1H396.0V471.0H397.2V471.2H398.5V470.8H399.8V470.6H401.0V471.3H402.2V472.4H403.5V473.0H404.8V473.9H406.0V472.1H407.2V473.3H408.5V473.5H409.8V473.9H411.0V474.6H412.2V474.9" fill="none" stroke="#000" stroke-width="1.2" stroke-dasharray="2.8,1.7"/>
<path d="M271.0,476.0H272.2V475.8H273.5V475.8H274.8V475.8H276.0V475.9H277.2V475.2H278.5V474.9H279.8V475.0H281.0V474.6H282.2V475.2H283.5V474.3H284.8V474.6H286.0V473.8H287.2V474.1H288.5V474.2H289.8V474.8H291.0V473.4H292.2V473.6H293.5V471.9H294.8V472.1H296.0V472.0H297.2V471.9H298.5V472.2H299.8V472.1H301.0V470.1H302.2V471.4H303.5V469.3H304.8V471.1H306.0V468.9H307.2V467.9H308.5V466.7H309.8V466.1H311.0V464.5H312.2V461.9H313.5V462.0H314.8V459.7H316.0V458.4H317.2V455.0H318.5V454.2H319.8V449.6H321.0V452.7H322.2V444.5H323.5V441.9H324.8V441.9H326.0V439.6H327.2V430.6H328.5V424.0H329.8V420.1H331.0V416.9H332.2V413.3H333.5V411.0H334.8V411.4H336.0V409.1H337.2V401.4H338.5V403.4H339.8V403.1H341.0V403.4H342.5V397.5H343.5V398.0H344.8V406.3H346.0V407.8H347.2V399.4H348.5V404.9H349.8V401.8H351.0V392.9H352.2V386.3H353.5V387.8H354.8V386.9H356.0V386.8H357.2V375.6H358.5V385.3H359.8V382.1H361.0V368.6H362.2V361.0H363.5V363.6H364.8V362.1H366.0V361.4H367.5V351.0H368.5V351.0H369.8V345.5H371.0V358.0H372.2V362.4H373.5V364.6H374.8V374.2H376.0V381.5H377.2V387.4H378.5V391.8H379.8V403.7H381.0V405.6H382.2V420.6H383.5V421.2H384.8V431.6H386.0V433.9H387.2V441.1H388.5V444.6H389.8V449.4H391.0V449.4H392.2V450.6H393.5V455.4H394.8V457.2H396.0V457.0H397.2V459.7H398.5V459.9H399.8V463.8H401.0V464.0H402.2V465.1H403.5V468.1H404.8V466.5H406.0V467.3H407.2V468.2H408.5V467.9H409.8V467.9H411.0V469.7H412.2V470.2H413.5V467.9H414.8V469.9H416.0V470.1H417.2V470.2H418.5V472.0H419.8V470.8H421.0V472.1H422.2V471.3H423.5V471.7H424.8V472.8H426.0V472.0H427.2V472.7H428.5V472.4H429.8V472.7H431.0V473.9H432.2V474.0H433.5V473.3H434.8V473.5H436.0V475.3H437.2V474.2H438.5V474.4H439.8V475.1H441.0V474.7H442.2V474.9H443.5V475.4H444.8V475.5H446.0V475.1H447.2V475.7H448.5V475.3H449.8V475.3H451.0V475.4H452.2V475.4" fill="none" stroke="#0a0a0a" stroke-width="1.1"/>
<path d="M271.0,475.6H272.2V475.4H273.5V475.0H274.8V475.0H276.0V474.7H277.2V474.5H278.5V474.4H279.8V474.7H281.0V474.3H282.2V474.5H283.5V474.4H284.8V473.6H286.0V473.2H287.2V473.0H288.5V473.3H289.8V473.4H291.0V473.5H292.2V471.8H293.5V472.6H294.8V472.4H296.0V472.7H297.2V471.3H298.5V470.9H299.8V469.7H301.0V469.8H302.2V469.3H303.5V468.6H304.8V467.8H306.0V466.5H307.2V466.7H308.5V466.3H309.8V465.8H311.0V463.3H312.2V462.6H313.5V460.8H314.8V456.1H316.0V455.4H317.2V452.1H318.5V450.3H319.8V449.7H321.0V447.2H322.2V446.4H323.5V444.3H324.8V438.7H326.0V434.6H327.2V429.9H328.5V425.5H329.8V421.9H331.0V415.3H332.2V414.0H333.5V408.4H334.8V408.1H336.0V406.1H337.2V404.3H338.5V397.7H339.8V392.7H341.0V389.6H342.5V391.0H343.5V389.4H344.8V391.2H346.0V396.6H347.2V394.3H348.5V397.4H349.8V399.6H351.0V393.3H352.2V393.4H353.5V387.6H354.8V390.6H356.0V385.5H357.2V381.1H358.5V376.0H359.8V382.1H361.0V370.5H362.2V368.2H363.5V368.1H364.8V365.9H366.0V363.2H367.2V360.6H368.5V355.8H370.0V356.0H371.0V360.0H372.2V360.0H373.5V375.2H374.8V377.5H376.0V388.2H377.2V389.8H378.5V397.0H379.8V404.9H381.0V411.2H382.2V421.2H383.5V422.8H384.8V432.0H386.0V434.2H387.2V440.9H388.5V444.6H389.8V446.6H391.0V453.0H392.2V453.2H393.5V456.9H394.8V455.7H396.0V458.6H397.2V460.4H398.5V462.0H399.8V462.4H401.0V462.6H402.2V462.2H403.5V464.1H404.8V464.4H406.0V465.6H407.2V467.1H408.5V468.5H409.8V467.8H411.0V468.5H412.2V468.7H413.5V469.1H414.8V469.5H416.0V469.3H417.2V469.6H418.5V470.3H419.8V471.5H421.0V471.2H422.2V472.0H423.5V470.6H424.8V471.8H426.0V472.2H427.2V472.5H428.5V471.9H429.8V471.9H431.0V472.1H432.2V473.0H433.5V474.3H434.8V473.7H436.0V473.4H437.2V474.2H438.5V474.2H439.8V474.5H441.0V474.4H442.2V474.2H443.5V474.5H444.8V475.0H446.0V474.9H447.2V475.2H448.5V474.7H449.8V475.3H451.0V475.2H452.2V475.3H453.5V475.6H454.8V475.4H456.0V475.6H457.2V475.8H458.5V475.9H459.8V476.0" fill="none" stroke="#000" stroke-width="2.2" stroke-linejoin="miter"/>
<g stroke="#222" stroke-width="0.7"><path d="M27.1,476.5 v2.0"/><path d="M44.1,476.5 v1.0" stroke="#777" stroke-width="0.5"/><path d="M54.1,476.5 v1.0" stroke="#777" stroke-width="0.5"/><path d="M61.2,476.5 v1.0" stroke="#777" stroke-width="0.5"/><path d="M66.7,476.5 v1.0" stroke="#777" stroke-width="0.5"/><path d="M71.1,476.5 v1.0" stroke="#777" stroke-width="0.5"/><path d="M74.9,476.5 v1.0" stroke="#777" stroke-width="0.5"/><path d="M78.2,476.5 v1.0" stroke="#777" stroke-width="0.5"/><path d="M81.1,476.5 v1.0" stroke="#777" stroke-width="0.5"/><path d="M83.7,476.5 v2.0"/><path d="M100.7,476.5 v1.0" stroke="#777" stroke-width="0.5"/><path d="M110.7,476.5 v1.0" stroke="#777" stroke-width="0.5"/><path d="M117.8,476.5 v1.0" stroke="#777" stroke-width="0.5"/><path d="M123.3,476.5 v1.0" stroke="#777" stroke-width="0.5"/><path d="M127.7,476.5 v1.0" stroke="#777" stroke-width="0.5"/><path d="M131.5,476.5 v1.0" stroke="#777" stroke-width="0.5"/><path d="M134.8,476.5 v1.0" stroke="#777" stroke-width="0.5"/><path d="M137.7,476.5 v1.0" stroke="#777" stroke-width="0.5"/><path d="M140.3,476.5 v2.0"/><path d="M157.3,476.5 v1.0" stroke="#777" stroke-width="0.5"/><path d="M167.3,476.5 v1.0" stroke="#777" stroke-width="0.5"/><path d="M174.4,476.5 v1.0" stroke="#777" stroke-width="0.5"/><path d="M179.9,476.5 v1.0" stroke="#777" stroke-width="0.5"/><path d="M184.3,476.5 v1.0" stroke="#777" stroke-width="0.5"/><path d="M188.1,476.5 v1.0" stroke="#777" stroke-width="0.5"/><path d="M191.4,476.5 v1.0" stroke="#777" stroke-width="0.5"/><path d="M194.3,476.5 v1.0" stroke="#777" stroke-width="0.5"/><path d="M196.9,476.5 v2.0"/><path d="M213.9,476.5 v1.0" stroke="#777" stroke-width="0.5"/><path d="M223.9,476.5 v1.0" stroke="#777" stroke-width="0.5"/><path d="M231.0,476.5 v1.0" stroke="#777" stroke-width="0.5"/><path d="M236.5,476.5 v1.0" stroke="#777" stroke-width="0.5"/><path d="M240.9,476.5 v1.0" stroke="#777" stroke-width="0.5"/><path d="M244.7,476.5 v1.0" stroke="#777" stroke-width="0.5"/><path d="M248.0,476.5 v1.0" stroke="#777" stroke-width="0.5"/><path d="M250.9,476.5 v1.0" stroke="#777" stroke-width="0.5"/><path d="M253.5,476.5 v2.0"/></g>
<g stroke="#222" stroke-width="0.7"><path d="M270.5,476.0 v2.0"/><path d="M287.5,476.0 v1.0" stroke="#777" stroke-width="0.5"/><path d="M297.4,476.0 v1.0" stroke="#777" stroke-width="0.5"/><path d="M304.5,476.0 v1.0" stroke="#777" stroke-width="0.5"/><path d="M309.9,476.0 v1.0" stroke="#777" stroke-width="0.5"/><path d="M314.4,476.0 v1.0" stroke="#777" stroke-width="0.5"/><path d="M318.2,476.0 v1.0" stroke="#777" stroke-width="0.5"/><path d="M321.4,476.0 v1.0" stroke="#777" stroke-width="0.5"/><path d="M324.3,476.0 v1.0" stroke="#777" stroke-width="0.5"/><path d="M326.9,476.0 v2.0"/><path d="M343.9,476.0 v1.0" stroke="#777" stroke-width="0.5"/><path d="M353.8,476.0 v1.0" stroke="#777" stroke-width="0.5"/><path d="M360.9,476.0 v1.0" stroke="#777" stroke-width="0.5"/><path d="M366.3,476.0 v1.0" stroke="#777" stroke-width="0.5"/><path d="M370.8,476.0 v1.0" stroke="#777" stroke-width="0.5"/><path d="M374.6,476.0 v1.0" stroke="#777" stroke-width="0.5"/><path d="M377.8,476.0 v1.0" stroke="#777" stroke-width="0.5"/><path d="M380.7,476.0 v1.0" stroke="#777" stroke-width="0.5"/><path d="M383.3,476.0 v2.0"/><path d="M400.3,476.0 v1.0" stroke="#777" stroke-width="0.5"/><path d="M410.2,476.0 v1.0" stroke="#777" stroke-width="0.5"/><path d="M417.3,476.0 v1.0" stroke="#777" stroke-width="0.5"/><path d="M422.7,476.0 v1.0" stroke="#777" stroke-width="0.5"/><path d="M427.2,476.0 v1.0" stroke="#777" stroke-width="0.5"/><path d="M431.0,476.0 v1.0" stroke="#777" stroke-width="0.5"/><path d="M434.2,476.0 v1.0" stroke="#777" stroke-width="0.5"/><path d="M437.1,476.0 v1.0" stroke="#777" stroke-width="0.5"/><path d="M439.7,476.0 v2.0"/><path d="M456.7,476.0 v1.0" stroke="#777" stroke-width="0.5"/><path d="M466.6,476.0 v1.0" stroke="#777" stroke-width="0.5"/><path d="M473.7,476.0 v1.0" stroke="#777" stroke-width="0.5"/><path d="M479.1,476.0 v1.0" stroke="#777" stroke-width="0.5"/><path d="M483.6,476.0 v1.0" stroke="#777" stroke-width="0.5"/><path d="M487.4,476.0 v1.0" stroke="#777" stroke-width="0.5"/><path d="M490.6,476.0 v1.0" stroke="#777" stroke-width="0.5"/><path d="M493.5,476.0 v1.0" stroke="#777" stroke-width="0.5"/><path d="M496.1,476.0 v2.0"/></g>
<text class="t" transform="translate(24.2,486.9) scale(0.86,1)" font-size="10" stroke="#111" stroke-width="0.12">10<tspan dx="1.6" dy="-3.9" font-size="6.2">0</tspan></text>
<text class="t" transform="translate(79.1,486.9) scale(0.86,1)" font-size="10" stroke="#111" stroke-width="0.12">10<tspan dx="1.6" dy="-3.9" font-size="6.2">1</tspan></text>
<text class="t" transform="translate(135.0,486.9) scale(0.86,1)" font-size="10" stroke="#111" stroke-width="0.12">10<tspan dx="1.6" dy="-3.9" font-size="6.2">2</tspan></text>
<text class="t" transform="translate(191.9,486.9) scale(0.86,1)" font-size="10" stroke="#111" stroke-width="0.12">10<tspan dx="1.6" dy="-3.9" font-size="6.2">3</tspan></text>
<text class="t" transform="translate(248.8,486.9) scale(0.86,1)" font-size="10" stroke="#111" stroke-width="0.12">10<tspan dx="1.6" dy="-3.9" font-size="6.2">4</tspan></text>
<text class="t" transform="translate(266.0,486.9) scale(0.86,1)" font-size="10" stroke="#111" stroke-width="0.12">10<tspan dx="1.6" dy="-3.9" font-size="6.2">0</tspan></text>
<text class="t" transform="translate(322.9,486.9) scale(0.86,1)" font-size="10" stroke="#111" stroke-width="0.12">10<tspan dx="1.6" dy="-3.9" font-size="6.2">1</tspan></text>
<text class="t" transform="translate(380.0,486.9) scale(0.86,1)" font-size="10" stroke="#111" stroke-width="0.12">10<tspan dx="1.6" dy="-3.9" font-size="6.2">2</tspan></text>
<text class="t" transform="translate(435.6,486.9) scale(0.86,1)" font-size="10" stroke="#111" stroke-width="0.12">10<tspan dx="1.6" dy="-3.9" font-size="6.2">3</tspan></text>
<text class="t" transform="translate(491.3,486.9) scale(0.86,1)" font-size="10" stroke="#111" stroke-width="0.12">10<tspan dx="1.6" dy="-3.9" font-size="6.2">4</tspan></text>
<text class="b" x="41.40" y="57.80" font-size="11.6">CD40</text>
<text class="b" x="299.60" y="55.60" font-size="11.6">CD80</text>
<text class="b" x="42.20" y="295.00" font-size="11.6">CD86</text>
<text class="b" x="298.6" y="290" font-size="11.6">I-A<tspan dy="-3.8" font-size="7.6">d</tspan></text>
<path d="M407,65 H426.5" stroke="#111" stroke-width="1.4" stroke-dasharray="2.7,1.2"/>
<path d="M408,93.3 H427.2" stroke="#111" stroke-width="1.1"/>
<path d="M407.6,133.2 H424.9" stroke="#000" stroke-width="3.2"/>
<text class="b" transform="translate(433.40,68.00) scale(1.050,1)" font-size="11.6">Media</text>
<text class="b" transform="translate(433.80,97.30) scale(1.040,1)" font-size="11.6">12B1-D1/AP</text>
<text class="b" transform="translate(432.80,134.90) scale(1.040,1)" font-size="11.6">12B1-D1/HS/AP</text>
<g stroke="#444" stroke-width="0.9" fill="none">
<path d="M63.7,553.5 V906.5"/>
<path d="M58.6,903.0 H520"/>
<path d="M58.6,833.1 h5"/>
<path d="M58.6,763.2 h5"/>
<path d="M58.6,693.3 h5"/>
<path d="M58.6,623.4 h5"/>
<path d="M58.6,553.5 h5"/>
<path d="M177.7,903.0 v3.5"/>
<path d="M291.7,903.0 v3.5"/>
<path d="M405.7,903.0 v3.5"/>
<path d="M519.6,903.0 v3.5"/>
</g>
<rect x="82.2" y="763.2" width="25.3" height="139.8" fill="#ffffff" stroke="#222" stroke-width="0.8"/>
<rect x="107.5" y="733.0" width="25.4" height="170.0" fill="#b8b8b8" stroke="#222" stroke-width="0.8"/>
<rect x="132.9" y="637.4" width="26.3" height="265.6" fill="#000000" stroke="#222" stroke-width="0.8"/>
<rect x="196.1" y="763.2" width="25.3" height="139.8" fill="#ffffff" stroke="#222" stroke-width="0.8"/>
<rect x="221.4" y="753.3" width="25.4" height="149.7" fill="#b8b8b8" stroke="#222" stroke-width="0.8"/>
<rect x="246.8" y="601.5" width="26.3" height="301.5" fill="#000000" stroke="#222" stroke-width="0.8"/>
<rect x="310.1" y="763.2" width="25.3" height="139.8" fill="#ffffff" stroke="#222" stroke-width="0.8"/>
<rect x="335.4" y="726.3" width="25.4" height="176.7" fill="#b8b8b8" stroke="#222" stroke-width="0.8"/>
<rect x="360.8" y="646.3" width="26.3" height="256.7" fill="#000000" stroke="#222" stroke-width="0.8"/>
<rect x="424.1" y="763.2" width="25.3" height="139.8" fill="#ffffff" stroke="#222" stroke-width="0.8"/>
<rect x="449.4" y="673.9" width="25.4" height="229.1" fill="#b8b8b8" stroke="#222" stroke-width="0.8"/>
<rect x="474.8" y="659.3" width="26.3" height="243.7" fill="#000000" stroke="#222" stroke-width="0.8"/>
<text class="b" transform="translate(52.70,909.10) scale(1.050,1)" font-size="13.7" text-anchor="end">0</text>
<text class="b" transform="translate(52.70,839.20) scale(1.050,1)" font-size="13.7" text-anchor="end">0.5</text>
<text class="b" transform="translate(52.70,769.30) scale(1.050,1)" font-size="13.7" text-anchor="end">1</text>
<text class="b" transform="translate(52.70,699.40) scale(1.050,1)" font-size="13.7" text-anchor="end">1.5</text>
<text class="b" transform="translate(52.70,629.50) scale(1.050,1)" font-size="13.7" text-anchor="end">2</text>
<text class="b" transform="translate(52.70,559.60) scale(1.050,1)" font-size="13.7" text-anchor="end">2.5</text>
<text class="b" transform="translate(120.10,930.60) scale(1.040,1)" font-size="13.8" text-anchor="middle">CD40</text>
<text class="b" transform="translate(234.90,930.60) scale(1.040,1)" font-size="13.8" text-anchor="middle">CD80</text>
<text class="b" transform="translate(349.20,930.60) scale(1.040,1)" font-size="13.8" text-anchor="middle">CD86</text>
<text class="b" transform="translate(463.80,930.60) scale(1.040,1)" font-size="13.8" text-anchor="middle">I-Ad</text>
<text class="b" font-size="16.1" text-anchor="middle" transform="translate(13.3,731.9) rotate(-90)">Fold Increase in MFI</text>
<rect x="391" y="562.3" width="8.6" height="8.6" fill="#ffffff" stroke="#222" stroke-width="0.9"/>
<text class="b" transform="translate(403.60,571.50) scale(0.975,1)" font-size="13.8">Media</text>
<rect x="391" y="585.8" width="8.6" height="8.6" fill="#b8b8b8" stroke="#222" stroke-width="0.9"/>
<text class="b" transform="translate(403.60,595.00) scale(1.030,1)" font-size="13.8">12B1-D1/AP</text>
<rect x="391" y="609.4" width="8.6" height="8.6" fill="#000000" stroke="#222" stroke-width="0.9"/>
<text class="b" transform="translate(403.60,618.60) scale(1.030,1)" font-size="13.8">12B1-D1/HS/AP</text>
</svg></body></html>
